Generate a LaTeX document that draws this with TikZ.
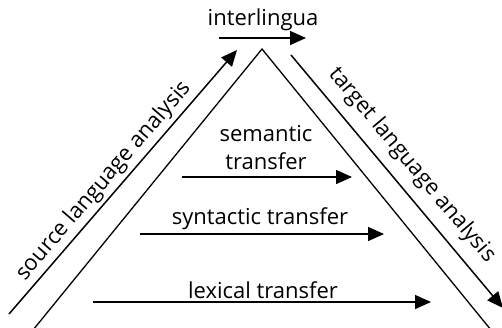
\documentclass[tikz,border=0pt]{standalone}
\usepackage{fontspec}
\setmainfont{Open Sans}
\usetikzlibrary{arrows.meta}
\begin{document}
\begin{tikzpicture}[x=1pt,y=-1pt,font=\fontsize{22}{28}\selectfont,line width=1.5pt,
    flow/.style={-{Triangle[length=16pt,width=14pt]}}]
    \useasboundingbox (0,0) rectangle (502,327);

    % triangle
    \coordinate (apex) at (262,49);
    \coordinate (baseL) at (33,330);
    \coordinate (baseR) at (491,330);
    \draw[line width=1.3pt] (baseL) -- (apex) -- (baseR);

    % analysis arrows
    \coordinate (srcA) at (9,314);
    \coordinate (srcB) at (237,50);
    \draw[flow] (srcA) -- (srcB);
    \node[rotate=49.2] (srclab) at (104,181) {source language analysis};

    \coordinate (tgtA) at (291,55);
    \coordinate (tgtB) at (503,308);
    \draw[flow] (tgtA) -- (tgtB);
    \node[rotate=-50] (tgtlab) at (412,165) {target language analysis};

    % interlingua
    \node (inter) at (263,20) {interlingua};
    \coordinate (interA) at (219,38);
    \coordinate (interB) at (306,38);
    \draw[flow] (interA) -- (interB);

    % transfer levels
    \node[align=center] (sem) at (266,148) {semantic\\transfer};
    \coordinate (semA) at (182,177);
    \coordinate (semB) at (352,177);
    \draw[flow] (semA) -- (semB);

    \node (syn) at (260,219) {syntactic transfer};
    \coordinate (synA) at (140,234);
    \coordinate (synB) at (384,234);
    \draw[flow] (synA) -- (synB);

    \node (lex) at (263,290) {lexical transfer};
    \coordinate (lexA) at (93,302);
    \coordinate (lexB) at (431,302);
    \draw[flow] (lexA) -- (lexB);
\end{tikzpicture}
\end{document}
